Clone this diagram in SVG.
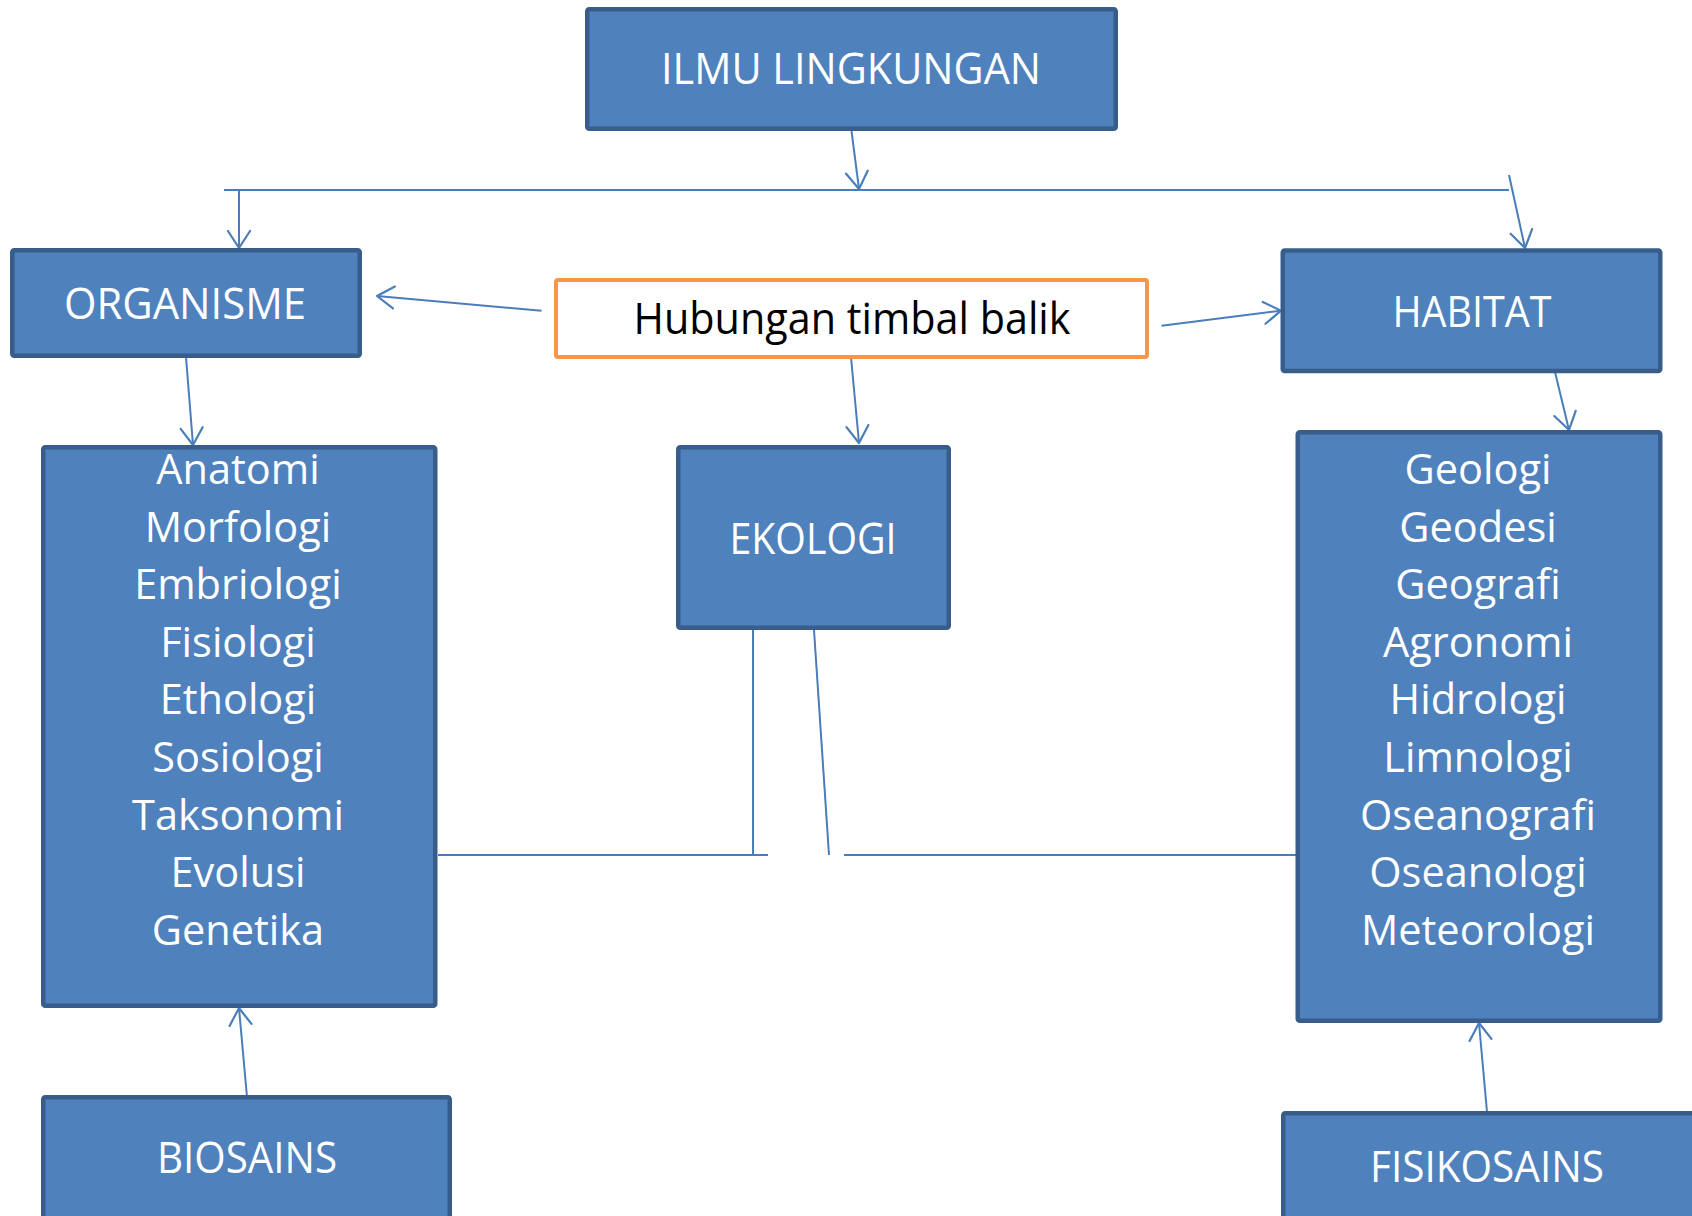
<svg xmlns="http://www.w3.org/2000/svg" width="1692" height="1216" viewBox="0 0 1692 1216">
<style>
.box{fill:#4F81BD;stroke:#385D8A;stroke-width:4.5}
.obox{fill:#FFFFFF;stroke:#F79646;stroke-width:4}
.lbl{font-family:"Open Sans","Liberation Sans",sans-serif;font-size:43px;fill:#FFFFFF;text-anchor:middle}
.dark{fill:#000000}
.lst{font-family:"Open Sans","Liberation Sans",sans-serif;font-size:41.5px;fill:#FFFFFF;text-anchor:middle}
.con{stroke:#4A7EBB;stroke-width:2;fill:none}
</style>
<defs>
<marker id="ah" viewBox="-20 -14 24 28" refX="0" refY="0" markerWidth="24" markerHeight="28" markerUnits="userSpaceOnUse" orient="auto">
<path d="M-17,-11 L0,0 L-17,11" fill="none" stroke="#4A7EBB" stroke-width="2.2" stroke-linecap="round" stroke-linejoin="round"/>
</marker>
</defs>
<rect width="1692" height="1216" fill="#FFFFFF"/>
<g id="connectors">
<line class="con" x1="851.5" y1="131" x2="859" y2="189" marker-end="url(#ah)"/>
<line class="con" x1="224" y1="190" x2="1509" y2="190"/>
<line class="con" x1="239" y1="190" x2="239" y2="248" marker-end="url(#ah)"/>
<line class="con" x1="1509" y1="175" x2="1525" y2="248" marker-end="url(#ah)"/>
<line class="con" x1="541.5" y1="310.7" x2="377" y2="296" marker-end="url(#ah)"/>
<line class="con" x1="1161.5" y1="325.7" x2="1281" y2="310.7" marker-end="url(#ah)"/>
<line class="con" x1="851" y1="357" x2="859" y2="443" marker-end="url(#ah)"/>
<line class="con" x1="186" y1="357" x2="193" y2="445" marker-end="url(#ah)"/>
<line class="con" x1="1555" y1="372" x2="1569" y2="430" marker-end="url(#ah)"/>
<line class="con" x1="753" y1="630" x2="753" y2="855"/>
<line class="con" x1="438" y1="855" x2="768" y2="855"/>
<line class="con" x1="814" y1="630" x2="829" y2="855"/>
<line class="con" x1="844" y1="855" x2="1296" y2="855"/>
<line class="con" x1="247" y1="1097" x2="239" y2="1008" marker-end="url(#ah)"/>
<line class="con" x1="1487" y1="1112" x2="1479" y2="1023" marker-end="url(#ah)"/>
</g>
<g id="ilmu-lingkungan">
<rect class="box" x="587.25" y="9.25" width="528.5" height="119.5" rx="2"/>
<text class="lbl" x="851" y="84" textLength="380" lengthAdjust="spacingAndGlyphs">ILMU LINGKUNGAN</text>
</g>
<g id="organisme">
<rect class="box" x="12.25" y="250.25" width="347.5" height="105.5" rx="2"/>
<text class="lbl" x="185" y="319" textLength="242" lengthAdjust="spacingAndGlyphs">ORGANISME</text>
</g>
<g id="hubungan">
<rect class="obox" x="556" y="280" width="591" height="77" rx="2"/>
<text class="lbl dark" x="852" y="334" textLength="437" lengthAdjust="spacingAndGlyphs">Hubungan timbal balik</text>
</g>
<g id="habitat">
<rect class="box" x="1282.75" y="250.5" width="377.5" height="120.5" rx="2"/>
<text class="lbl" x="1472" y="326.7" textLength="159" lengthAdjust="spacingAndGlyphs">HABITAT</text>
</g>
<g id="ekologi">
<rect class="box" x="678.25" y="447.25" width="270.5" height="180.5" rx="2"/>
<text class="lbl" x="813" y="554" textLength="167" lengthAdjust="spacingAndGlyphs">EKOLOGI</text>
</g>
<g id="organisme-list">
<rect class="box" x="43.25" y="447.25" width="392" height="558.5" rx="2"/>
<text class="lst" x="238" y="484">Anatomi</text>
<text class="lst" x="238" y="541.6">Morfologi</text>
<text class="lst" x="238" y="599.2">Embriologi</text>
<text class="lst" x="238" y="656.8">Fisiologi</text>
<text class="lst" x="238" y="714.4">Ethologi</text>
<text class="lst" x="238" y="772">Sosiologi</text>
<text class="lst" x="238" y="829.6">Taksonomi</text>
<text class="lst" x="238" y="887.2">Evolusi</text>
<text class="lst" x="238" y="944.8">Genetika</text>
</g>
<g id="habitat-list">
<rect class="box" x="1297.75" y="432.25" width="362.5" height="588.5" rx="2"/>
<text class="lst" x="1478" y="484">Geologi</text>
<text class="lst" x="1478" y="541.6">Geodesi</text>
<text class="lst" x="1478" y="599.2">Geografi</text>
<text class="lst" x="1478" y="656.8">Agronomi</text>
<text class="lst" x="1478" y="714.4">Hidrologi</text>
<text class="lst" x="1478" y="772">Limnologi</text>
<text class="lst" x="1478" y="829.6">Oseanografi</text>
<text class="lst" x="1478" y="887.2">Oseanologi</text>
<text class="lst" x="1478" y="944.8">Meteorologi</text>
</g>
<g id="biosains">
<rect class="box" x="43.25" y="1097.25" width="406.5" height="200" rx="2"/>
<text class="lbl" x="247" y="1173" textLength="180" lengthAdjust="spacingAndGlyphs">BIOSAINS</text>
</g>
<g id="fisikosains">
<rect class="box" x="1283.25" y="1113.25" width="500" height="200" rx="2"/>
<text class="lbl" x="1487" y="1182" textLength="234" lengthAdjust="spacingAndGlyphs">FISIKOSAINS</text>
</g>
</svg>
